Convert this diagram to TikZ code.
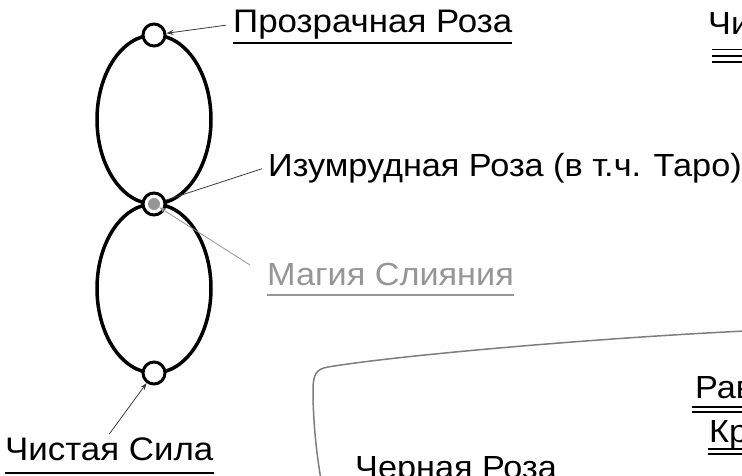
\documentclass[tikz,border=0pt]{standalone}
\usepackage{fontspec}
\setmainfont[FakeStretch=1.07]{Liberation Sans}
\usetikzlibrary{arrows.meta}
\definecolor{magicgrey}{RGB}{150,150,150}
\definecolor{framegrey}{RGB}{125,125,125}
\definecolor{pointergrey}{RGB}{60,60,60}
\begin{document}
\begin{tikzpicture}[x=1pt,y=-1pt,
        ring/.style={circle,draw,line width=3pt,fill=white,minimum size=22pt,inner sep=0pt},
        lbl/.style={anchor=base west,inner xsep=0pt,inner ysep=3pt,font=\fontsize{32}{36}\selectfont},
        biglbl/.style={lbl,font=\fontsize{32.6}{36}\selectfont},
        pointer/.style={line width=0.8pt,draw=pointergrey,-{Stealth[length=7pt,width=5pt]}},
        uline/.style={line width=2pt},
        dline/.style={line width=1.4pt}]
        \useasboundingbox (0,0) rectangle (742,476);
        \clip (0,0) rectangle (742,476);
        \draw[line width=3.5pt] (154,119.5) ellipse [x radius=57pt, y radius=84.5pt];
        \draw[line width=3.5pt] (154,288.5) ellipse [x radius=57pt, y radius=84.5pt];
        \node[ring] (clear) at (154,35) {};
        \node[ring] (emerald) at (154,204) {};
        \node[circle,fill=magicgrey,minimum size=12pt,inner sep=0pt] (fusion) at (emerald) {};
        \node[ring] (pure) at (154,373) {};
        \node[biglbl] (clearlbl) at (233,33) {Прозрачная Роза};
        \node[lbl] (emeraldlbl) at (268,177) {Изумрудная Роза (в т.ч. Таро)};
        \node[lbl,text=magicgrey] (fusionlbl) at (267,285) {Магия Слияния};
        \node[biglbl] (purelbl) at (5,460) {Чистая Сила};
        \node[lbl] (chilbl) at (708,35) {Чи};
        \node[lbl] (ravlbl) at (695,398) {Рав};
        \node[lbl] (krlbl) at (709,442) {Кр};
        \node[lbl] (blacklbl) at (355,478) {Черная Роза};
        \draw[pointer] ([xshift=-7pt]clearlbl.west) -- (clear);
        \draw[line width=0.8pt,pointergrey] ([xshift=-6pt]emeraldlbl.west) -- (emerald);
        \draw[pointer,draw=magicgrey] ([xshift=-17pt,yshift=9pt]fusionlbl.west) -- (fusion);
        \draw[pointer] (purelbl.north) -- (pure);
        \draw[uline] ([yshift=-10pt]clearlbl.base west) -- ([yshift=-10pt]clearlbl.base east);
        \draw[uline,magicgrey] ([yshift=-10pt]fusionlbl.base west) -- ([yshift=-10pt]fusionlbl.base east);
        \draw[uline] ([yshift=-13pt]purelbl.base west) -- ([yshift=-13pt]purelbl.base east);
        \foreach \d in {14.5,21,27}
            \draw[dline] ([xshift=4pt,yshift=-\d pt]chilbl.base west) -- ++(60,0);
        \foreach \d in {9,14}
            \draw[dline] ([xshift=-3pt,yshift=-\d pt]ravlbl.base west) -- ++(60,0);
        \foreach \d in {7,12}
            \draw[dline] ([xshift=-1pt,yshift=-\d pt]krlbl.base west) -- ++(60,0);
        \draw[framegrey,line width=1.5pt] (745,331) .. controls (600,338) and (400,355) .. (328,367)
            .. controls (316,369) and (313,375) .. (313,390) .. controls (313,420) and (316,450) .. (321,480);
    \end{tikzpicture}
\end{document}
